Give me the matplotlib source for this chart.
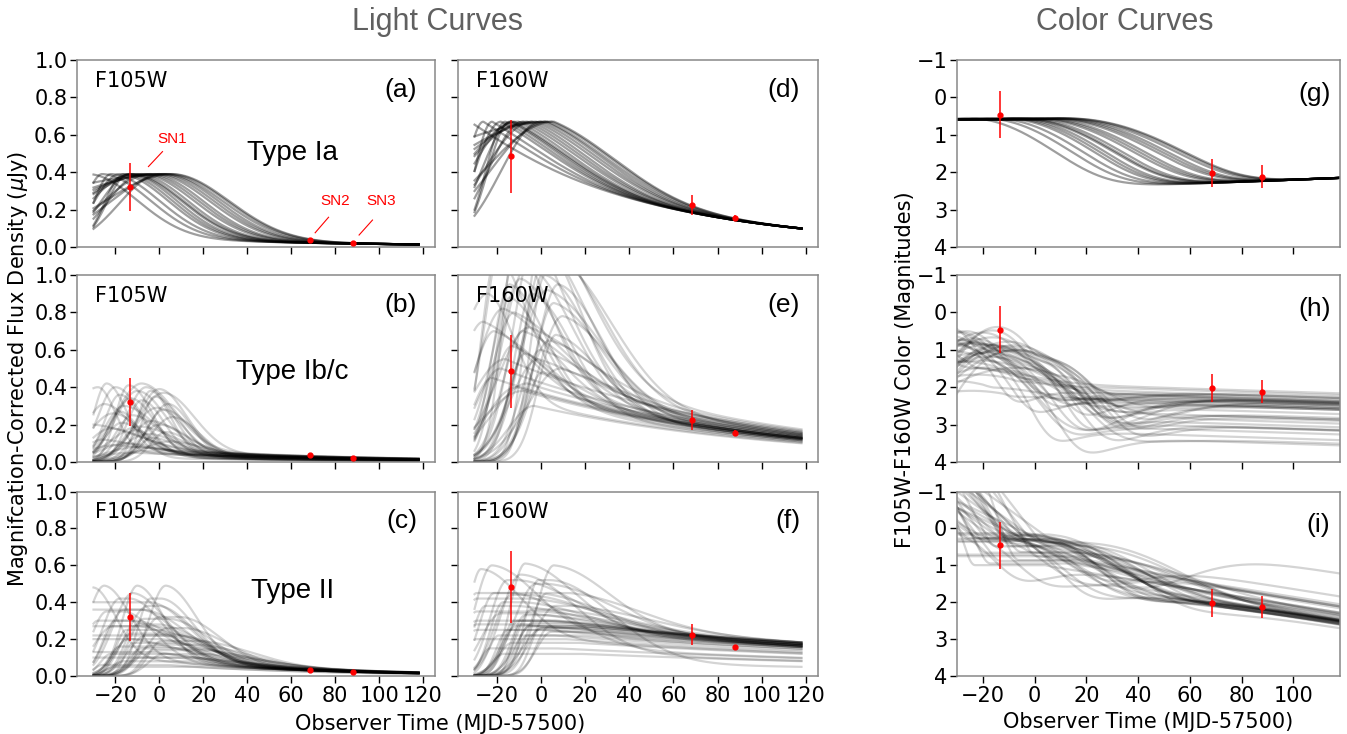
import numpy as np
import matplotlib.pyplot as plt

# ---- observed points (SN1, SN2, SN3) ----
sn_names = ["SN1", "SN2", "SN3"]
sn_time = [-13.5, 68.5, 88.0]
obs_f105 = [0.32, 0.035, 0.022]
err_f105 = [0.13, 0.010, 0.008]
obs_f160 = [0.485, 0.225, 0.155]
err_f160 = [0.195, 0.055, 0.015]
obs_color = [0.46, 2.02, 2.12]
err_color = [0.63, 0.38, 0.30]

# ---- Type Ia model set ----
ia_peak_time = [-32, -26, -22, -18, -16, -14, -13, -12, -10, -8, -6, -4, -2, 0, 2, 3, 5, 6]
ia_rise_width = [8, 8, 8, 12, 9, 10, 14, 20, 26, 16, 30, 22, 40, 18, 50, 26, 70, 32]
ia_fall_width = [22, 22, 22, 22, 22, 22, 23, 23, 23, 24, 24, 24, 25, 25, 25, 26, 26, 26]
ia_peak_f105 = 0.39
ia_peak_f160 = 0.67
ia_late_f105 = 0.022
ia_late_f160 = 0.18

# ---- Type Ib/c model set ----
ibc_peak_time = [-24, -20, -18, -16, -14, -12, -10, -8, -6, -4, -2, 0, 2, 4, -22, -26, -15, -10, -5, 0,
                 -28, -30, -12, -18, -8, 6, -20, -3, -13, 2, -25, -7, -17, -1, -11, 5, -21, -9, -4, 3]
ibc_rise_width = [6, 8, 7, 9, 6, 8, 10, 7, 9, 8, 6, 10, 8, 9, 10, 8, 12, 14, 11, 9,
                  12, 10, 16, 6, 12, 10, 14, 7, 9, 12, 9, 10, 8, 11, 7, 13, 11, 13, 6, 7]
ibc_f105_peak = [0.42, 0.40, 0.36, 0.30, 0.41, 0.25, 0.38, 0.33, 0.40, 0.22, 0.35, 0.39, 0.28, 0.31, 0.18, 0.12, 0.10, 0.08, 0.15, 0.20,
                 0.40, 0.20, 0.05, 0.27, 0.42, 0.24, 0.09, 0.13, 0.34, 0.37, 0.31, 0.06, 0.21, 0.29, 0.17, 0.11, 0.26, 0.19, 0.38, 0.16]
ibc_f105_fall = [9, 12, 10, 14, 11, 12, 13, 10, 12, 14, 11, 12, 13, 10, 15, 14, 16, 16, 14, 13,
                 8, 20, 18, 9, 15, 12, 18, 10, 11, 14, 12, 20, 10, 12, 9, 15, 13, 16, 9, 11]
ibc_f105_late = [0.020, 0.012, 0.022, 0.030, 0.010, 0.028, 0.018, 0.020, 0.014, 0.030, 0.022, 0.025, 0.012, 0.021, 0.030, 0.028, 0.015, 0.026, 0.010, 0.024,
                 0.020, 0.030, 0.022, 0.009, 0.032, 0.016, 0.026, 0.020, 0.013, 0.026, 0.024, 0.011, 0.022, 0.018, 0.021, 0.024, 0.012, 0.027, 0.020, 0.015]
ibc_f160_peak = [1.10, 1.25, 0.95, 0.80, 1.30, 0.70, 1.05, 0.90, 1.20, 0.60, 1.00, 1.15, 0.85, 0.95, 0.50, 0.45, 0.40, 0.42, 0.55, 0.65,
                 0.90, 0.75, 0.38, 0.88, 1.35, 0.78, 0.55, 0.48, 0.98, 1.10, 0.70, 0.30, 0.62, 0.92, 0.58, 0.50, 0.82, 0.72, 1.18, 0.68]
ibc_f160_fall = [14, 18, 16, 22, 20, 24, 20, 18, 22, 26, 20, 24, 22, 20, 28, 30, 34, 36, 30, 26,
                 12, 20, 40, 15, 25, 22, 30, 22, 18, 26, 20, 40, 18, 24, 16, 30, 22, 28, 18, 20]
ibc_f160_late = [0.20, 0.22, 0.18, 0.25, 0.24, 0.21, 0.20, 0.17, 0.23, 0.22, 0.19, 0.24, 0.20, 0.18, 0.26, 0.24, 0.22, 0.25, 0.23, 0.20,
                 0.16, 0.20, 0.22, 0.19, 0.27, 0.21, 0.28, 0.18, 0.20, 0.23, 0.21, 0.20, 0.17, 0.22, 0.19, 0.24, 0.20, 0.26, 0.20, 0.19]

# ---- Type II model set ----
ii_peak_time = [-32, -32, -32, -32, -32, -32, -32, -25, -10, 3, -20, -15, -12, -8, -18, -5, 0, -22, -16, -14,
                -10, -6, -2, 2, -26, -20, -24, -12, -4, -18, -9, -28, -16, 4, -7, -13, -3, -21, 1, -30]
ii_rise_width = [6, 6, 6, 6, 6, 6, 6, 8, 7, 8, 6, 5, 4, 6, 8, 10, 8, 5, 6, 7,
                 6, 8, 9, 7, 4, 5, 7, 9, 6, 5, 5, 6, 8, 10, 7, 6, 5, 9, 6, 6]
ii_plateau = [28, 25, 30, 35, 20, 30, 40, 0, 0, 0, 10, 15, 20, 25, 5, 5, 10, 25, 30, 15,
              10, 15, 20, 20, 30, 35, 8, 0, 5, 20, 25, 15, 8, 8, 12, 18, 22, 12, 18, 0]
ii_f105_peak = [0.40, 0.36, 0.27, 0.22, 0.20, 0.13, 0.10, 0.49, 0.49, 0.49, 0.30, 0.25, 0.18, 0.15, 0.42, 0.38, 0.32, 0.12, 0.08, 0.20,
                0.28, 0.22, 0.17, 0.12, 0.06, 0.05, 0.35, 0.45, 0.42, 0.16, 0.10, 0.30, 0.36, 0.26, 0.31, 0.23, 0.14, 0.27, 0.19, 0.48]
ii_f105_fall = [18, 20, 22, 20, 25, 25, 22, 12, 12, 14, 18, 20, 22, 25, 15, 16, 18, 30, 35, 20,
                20, 22, 24, 28, 30, 35, 14, 16, 15, 25, 30, 18, 16, 20, 18, 22, 26, 20, 24, 10]
ii_f105_late = [0.030, 0.035, 0.032, 0.030, 0.040, 0.035, 0.030, 0.030, 0.030, 0.035, 0.032, 0.034, 0.036, 0.038, 0.030, 0.033, 0.030, 0.040, 0.045, 0.030,
                0.032, 0.034, 0.036, 0.038, 0.030, 0.028, 0.028, 0.030, 0.032, 0.035, 0.040, 0.030, 0.031, 0.034, 0.033, 0.035, 0.037, 0.031, 0.036, 0.030]
ii_f160_peak = [0.45, 0.42, 0.35, 0.30, 0.28, 0.25, 0.20, 0.60, 0.61, 0.60, 0.40, 0.30, 0.28, 0.27, 0.52, 0.50, 0.45, 0.22, 0.18, 0.27,
                0.33, 0.29, 0.26, 0.24, 0.15, 0.12, 0.45, 0.55, 0.52, 0.25, 0.22, 0.38, 0.44, 0.38, 0.36, 0.30, 0.26, 0.34, 0.27, 0.58]
ii_f160_fall = [30, 35, 40, 45, 40, 50, 50, 20, 22, 25, 30, 40, 45, 50, 28, 30, 32, 55, 60, 40,
                38, 42, 45, 50, 60, 70, 25, 25, 28, 50, 55, 35, 30, 35, 36, 44, 48, 40, 46, 18]
ii_f160_late = [0.20, 0.22, 0.21, 0.19, 0.23, 0.20, 0.18, 0.18, 0.20, 0.21, 0.20, 0.21, 0.22, 0.23, 0.19, 0.20, 0.22, 0.24, 0.25, 0.19,
                0.20, 0.21, 0.22, 0.23, 0.17, 0.16, 0.12, 0.10, 0.06, 0.22, 0.24, 0.20, 0.21, 0.22, 0.20, 0.21, 0.23, 0.19, 0.22, 0.15]

t = np.linspace(-30, 118, 400)


def lc(tp, wr, amp, wf, late, tau, plat=0.0):
    # rise: half gaussian; fall: gaussian core + exponential tail pinned to "late" flux at t=70
    dt = t - tp
    dtf = np.clip(dt - plat, 0, None)
    m = min(late * np.exp((70 - tp - plat) / tau) / amp, 1.0)
    rise = amp * np.exp(-0.5 * (dt / wr) ** 2)
    fall = amp * ((1 - m) * np.exp(-0.5 * (dtf / wf) ** 2) + m * np.exp(-dtf / tau))
    return np.maximum(np.where(dt < 0, rise, fall), 1e-9)


models = {"Ia": [], "Ibc": [], "II": []}
for i in range(len(ia_peak_time)):
    f1 = lc(ia_peak_time[i], ia_rise_width[i], ia_peak_f105, ia_fall_width[i], ia_late_f105, 100)
    f2 = lc(ia_peak_time[i], ia_rise_width[i], ia_peak_f160, ia_fall_width[i] * 1.2, ia_late_f160, 80)
    models["Ia"].append((f1, f2))
for i in range(len(ibc_peak_time)):
    f1 = lc(ibc_peak_time[i], ibc_rise_width[i], ibc_f105_peak[i], ibc_f105_fall[i], ibc_f105_late[i], 90)
    f2 = lc(ibc_peak_time[i] + 4, ibc_rise_width[i] * 1.15, ibc_f160_peak[i], ibc_f160_fall[i], ibc_f160_late[i], 110)
    models["Ibc"].append((f1, f2))
for i in range(len(ii_peak_time)):
    f1 = lc(ii_peak_time[i], ii_rise_width[i], ii_f105_peak[i], ii_f105_fall[i], ii_f105_late[i], 70, ii_plateau[i])
    f2 = lc(ii_peak_time[i] + 3, ii_rise_width[i], ii_f160_peak[i], ii_f160_fall[i], ii_f160_late[i], 250, ii_plateau[i])
    models["II"].append((f1, f2))

fig = plt.figure(figsize=(13.47, 7.34), dpi=100)
cols_x = [(0.0572, 0.2658), (0.340, 0.2673), (0.7105, 0.2843)]
rows_y = [(0.6635, 0.2548), (0.3706, 0.2548), (0.0790, 0.2513)]
row_keys = ["Ia", "Ibc", "II"]
row_names = ["Type Ia", "Type Ib/c", "Type II"]
row_name_y = [0.50, 0.48, 0.46]
letters = [["(a)", "(d)", "(g)"], ["(b)", "(e)", "(h)"], ["(c)", "(f)", "(i)"]]
alphas = {"Ia": 0.38, "Ibc": 0.17, "II": 0.17}
sans = "Liberation Sans"

for r in range(3):
    for c in range(3):
        x0, w = cols_x[c]
        y0, h = rows_y[r]
        ax = fig.add_axes([x0, y0, w, h])
        key = row_keys[r]
        for f1, f2 in models[key]:
            if c == 0:
                y = f1
            elif c == 1:
                y = f2
            else:
                y = -2.5 * np.log10(f1 / f2)
            ax.plot(t, y, color="black", alpha=alphas[key], lw=1.6)
        if c < 2:
            obs = obs_f105 if c == 0 else obs_f160
            err = err_f105 if c == 0 else err_f160
            ax.errorbar(sn_time, obs, yerr=err, fmt="o", ms=3.5, color="red", elinewidth=1.1, capsize=0, zorder=5)
            ax.set_xlim(-37.5, 125.5)
            ax.set_ylim(0, 1.0)
            ax.set_xticks(range(-20, 121, 20))
            ax.set_yticks([0.0, 0.2, 0.4, 0.6, 0.8, 1.0])
            ax.text(0.05, 0.89, "F105W" if c == 0 else "F160W", transform=ax.transAxes, fontsize=15, va="center")
            ax.text(0.95, 0.84, letters[r][c], transform=ax.transAxes, fontsize=19, ha="right", va="center", family=sans)
            if c == 0:
                ax.text(60.5, row_name_y[r], row_names[r], fontsize=20, ha="center", va="center", family=sans)
            else:
                ax.tick_params(labelleft=False)
        else:
            ax.errorbar(sn_time, obs_color, yerr=err_color, fmt="o", ms=3.5, color="red", elinewidth=1.1, capsize=0, zorder=5)
            ax.set_xlim(-30, 118)
            ax.set_ylim(4, -1)
            ax.set_xticks(range(-20, 101, 20))
            ax.set_yticks(range(-1, 5))
            ax.text(0.975, 0.82, letters[r][c], transform=ax.transAxes, fontsize=19, ha="right", va="center", family=sans)
        if r < 2:
            ax.tick_params(labelbottom=False)
        ax.tick_params(labelsize=15, length=5, width=1, direction="out", pad=2)
        for s in ax.spines.values():
            s.set_color("#888888")
            s.set_linewidth(1.1)
        if r == 0 and c == 0:
            # SN labels with pointer lines
            ax.plot([-5, 1.4], [0.43, 0.51], color="red", lw=0.8)
            ax.plot([70.9, 77], [0.076, 0.159], color="red", lw=0.8)
            ax.plot([90.9, 97], [0.064, 0.144], color="red", lw=0.8)
            ax.text(6, 0.58, sn_names[0], color="red", fontsize=11, ha="center", va="center", family=sans)
            ax.text(80, 0.246, sn_names[1], color="red", fontsize=11, ha="center", va="center", family=sans)
            ax.text(101, 0.246, sn_names[2], color="red", fontsize=11, ha="center", va="center", family=sans)

fig.text(0.325, 0.97, "Light Curves", fontsize=22, color="#606060", ha="center", va="center", family=sans)
fig.text(0.835, 0.97, "Color Curves", fontsize=22, color="#606060", ha="center", va="center", family=sans)
fig.text(0.327, 0.014, "Observer Time (MJD-57500)", fontsize=15, ha="center", va="center")
fig.text(0.852, 0.016, "Observer Time (MJD-57500)", fontsize=15, ha="center", va="center")
fig.text(0.013, 0.497, r"Magnifcation-Corrected Flux Density ($\mu$Jy)", fontsize=15, rotation=90, ha="center", va="center")
fig.text(0.672, 0.497, "F105W-F160W Color (Magnitudes)", fontsize=15, rotation=90, ha="center", va="center")

fig.savefig("out.png", dpi=100)
